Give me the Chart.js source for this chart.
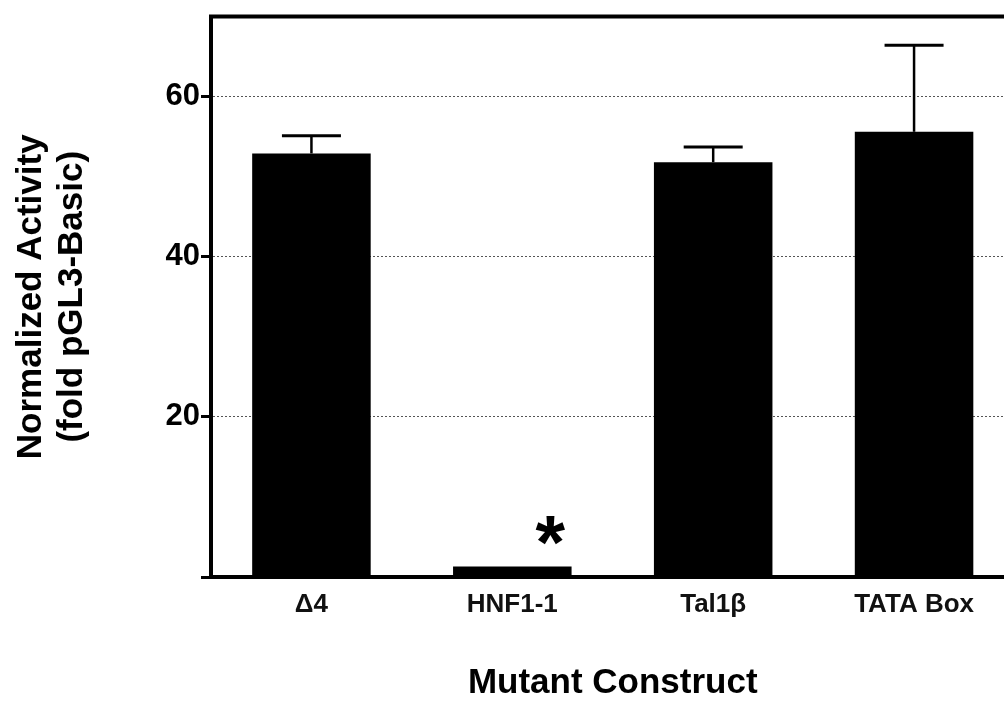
<!DOCTYPE html>
<html>
<head>
<meta charset="utf-8">
<script src="https://cdn.jsdelivr.net/npm/chart.js@4"></script>
<style>
  html, body { margin: 0; padding: 0; background: #fff; overflow: hidden; }
  #wrap { width: 1004px; height: 704px; overflow: hidden; }
</style>
</head>
<body>
<div id="wrap">
  <canvas id="myChart" width="1016" height="704"></canvas>
</div>
<script>
// constructs on the x axis
const constructs = ['\u03944', 'HNF1-1', 'Tal1\u03B2', 'TATA Box'];
// normalized activity (fold pGL3-Basic) and the upper error
const activity = [52.9, 1.3, 51.8, 55.6];
const activityErr = [2.2, 0, 1.9, 10.8];
// significance marks above bars
const marks = ['', '*', '', ''];
const yTicks = [20, 40, 60];

const FONT = '"Liberation Sans", Arial, Helvetica, sans-serif';

// upper error bar with a flat cap
const errorBars = {
  id: 'errorBars',
  afterDatasetsDraw(chart) {
    const ctx = chart.ctx;
    const y = chart.scales.y;
    const meta = chart.getDatasetMeta(0);
    ctx.save();
    ctx.strokeStyle = '#000';
    meta.data.forEach((bar, i) => {
      if (!activityErr[i]) return;
      const top = y.getPixelForValue(activity[i] + activityErr[i]);
      ctx.lineWidth = 2.5;
      ctx.beginPath();
      ctx.moveTo(bar.x, bar.y);
      ctx.lineTo(bar.x, top);
      ctx.stroke();
      ctx.lineWidth = 3;
      ctx.beginPath();
      ctx.moveTo(bar.x - 29.5, top);
      ctx.lineTo(bar.x + 29.5, top);
      ctx.stroke();
    });
    // asterisks
    ctx.fillStyle = '#000';
    ctx.font = 'bold 76px ' + FONT;
    ctx.textAlign = 'center';
    ctx.textBaseline = 'alphabetic';
    meta.data.forEach((bar, i) => {
      if (!marks[i]) return;
      ctx.fillText(marks[i], bar.x + 38, bar.y + 1);
    });
    ctx.restore();
  }
};

// top and right edges of the plot box
const frame = {
  id: 'frame',
  afterDraw(chart) {
    const { ctx, chartArea } = chart;
    ctx.save();
    ctx.strokeStyle = '#000';
    ctx.lineWidth = 4;
    ctx.beginPath();
    ctx.moveTo(chartArea.left - 2, chartArea.top);
    ctx.lineTo(chartArea.right, chartArea.top);
    ctx.lineTo(chartArea.right, chartArea.bottom);
    ctx.stroke();
    ctx.restore();
  }
};

const elem = document.getElementById('myChart').getContext('2d');
new Chart(elem, {
  type: 'bar',
  data: {
    labels: constructs,
    datasets: [{
      data: activity,
      backgroundColor: '#000',
      borderWidth: 0,
      barPercentage: 0.59,
      categoryPercentage: 1
    }]
  },
  options: {
    responsive: false,
    animation: false,
    devicePixelRatio: 1,
    layout: { padding: { top: 15, right: 1.5, left: 0, bottom: 0 } },
    plugins: { legend: { display: false }, tooltip: { enabled: false } },
    scales: {
      x: {
        grid: { display: false, drawTicks: false },
        border: { display: true, color: '#000', width: 4 },
        ticks: {
          color: '#111',
          font: { family: FONT, size: 26, weight: 'bold' },
          padding: 12,
          maxRotation: 0
        },
        title: {
          display: true,
          text: 'Mutant Construct',
          color: '#000',
          font: { family: FONT, size: 35, weight: 'bold', lineHeight: 1.2 },
          padding: { top: 0, bottom: 0 }
        },
        afterFit(scale) { scale.height = 127; }
      },
      y: {
        min: 0,
        max: 70,
        afterBuildTicks(scale) {
          scale.ticks = [0].concat(yTicks).map(v => ({ value: v }));
        },
        grid: {
          color: ctx => ctx.tick && ctx.tick.value === 0 ? 'rgba(0,0,0,0)' : '#555',
          lineWidth: 1,
          tickColor: '#000',
          tickLength: 10,
          tickWidth: 3
        },
        border: { display: true, color: '#000', width: 4, dash: [2, 2] },
        ticks: {
          color: '#000',
          font: { family: FONT, size: 31, weight: 'bold', lineHeight: 1 },
          padding: 1,
          callback: v => (v === 0 ? '' : v)
        },
        title: {
          display: true,
          text: ['Normalized Activity', '(fold pGL3-Basic)'],
          color: '#000',
          font: { family: FONT, size: 35, weight: 'bold', lineHeight: 1.17 },
          padding: { top: 11, bottom: 0 }
        },
        afterFit(scale) { scale.width = 211; }
      }
    }
  },
  plugins: [errorBars, frame]
});
</script>
</body>
</html>
